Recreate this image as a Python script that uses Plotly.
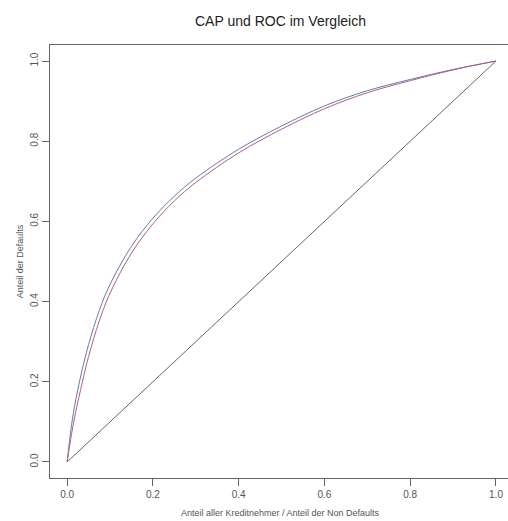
import plotly.graph_objects as go

# Data
x_vals = [0, 0.01, 0.02, 0.035, 0.05, 0.075, 0.1, 0.15, 0.2, 0.25, 0.3, 0.4, 0.5, 0.6, 0.7, 0.8, 0.9, 1.0]
cap_y = [0, 0.09, 0.155, 0.23, 0.293, 0.378, 0.443, 0.538, 0.608, 0.663, 0.708, 0.78, 0.838, 0.888, 0.926, 0.954, 0.979, 1.0]
roc_y = [0, 0.068, 0.125, 0.197, 0.263, 0.352, 0.421, 0.521, 0.594, 0.651, 0.697, 0.771, 0.83, 0.881, 0.921, 0.951, 0.978, 1.0]
diag_x = [0, 1]
diag_y = [0, 1]
tick_vals = [0, 0.2, 0.4, 0.6, 0.8, 1.0]
tick_text = ["0.0", "0.2", "0.4", "0.6", "0.8", "1.0"]

title_text = "CAP und ROC im Vergleich"
x_title = "Anteil aller Kreditnehmer / Anteil der Non Defaults"
y_title = "Anteil der Defaults"

fig = go.Figure()
fig.add_trace(go.Scatter(x=diag_x, y=diag_y, mode="lines",
                         line=dict(color="#666666", width=1), showlegend=False))
fig.add_trace(go.Scatter(x=x_vals, y=cap_y, mode="lines", line_shape="spline",
                         line=dict(color="#5f7cb0", width=1), showlegend=False))
fig.add_trace(go.Scatter(x=x_vals, y=roc_y, mode="lines", line_shape="spline",
                         line=dict(color="#b0607e", width=1), showlegend=False))

font_family = "Liberation Sans, Arial, sans-serif"

fig.update_layout(
    width=508, height=521,
    margin=dict(l=50, r=0, t=45, b=43),
    paper_bgcolor="white", plot_bgcolor="white",
    font=dict(family=font_family, color="#444"),
    hovermode=False,
    xaxis=dict(range=[-0.04, 1.028], tickvals=tick_vals, ticktext=tick_text,
               showgrid=False, zeroline=False, showline=True, linecolor="#666",
               linewidth=1, mirror=True, ticks="outside", ticklen=7,
               tickcolor="#666", tickfont=dict(size=10, color="#555")),
    yaxis=dict(range=[-0.04, 1.04], tickvals=tick_vals, ticktext=tick_text,
               showgrid=False, zeroline=False, showline=True, linecolor="#666",
               linewidth=1, mirror=False, ticks="outside", ticklen=7,
               tickcolor="#666", tickangle=-90, tickfont=dict(size=10, color="#555")),
    annotations=[
        dict(text=title_text, xref="paper", yref="paper", x=0.504, y=1.055,
             xanchor="center", yanchor="middle", showarrow=False,
             font=dict(size=14, color="#222", family=font_family)),
        dict(text=x_title, xref="paper", yref="paper", x=0.504, y=-0.081,
             xanchor="center", yanchor="middle", showarrow=False,
             font=dict(size=9, color="#555", family=font_family)),
        dict(text=y_title, xref="paper", yref="paper", x=-0.066, y=0.5,
             xanchor="center", yanchor="middle", showarrow=False, textangle=-90,
             font=dict(size=9, color="#555", family=font_family)),
    ],
)

fig.write_html(
    "out.html",
    config={"displayModeBar": False},
    post_script="document.body.style.margin='0px';document.body.style.overflow='hidden';",
)
